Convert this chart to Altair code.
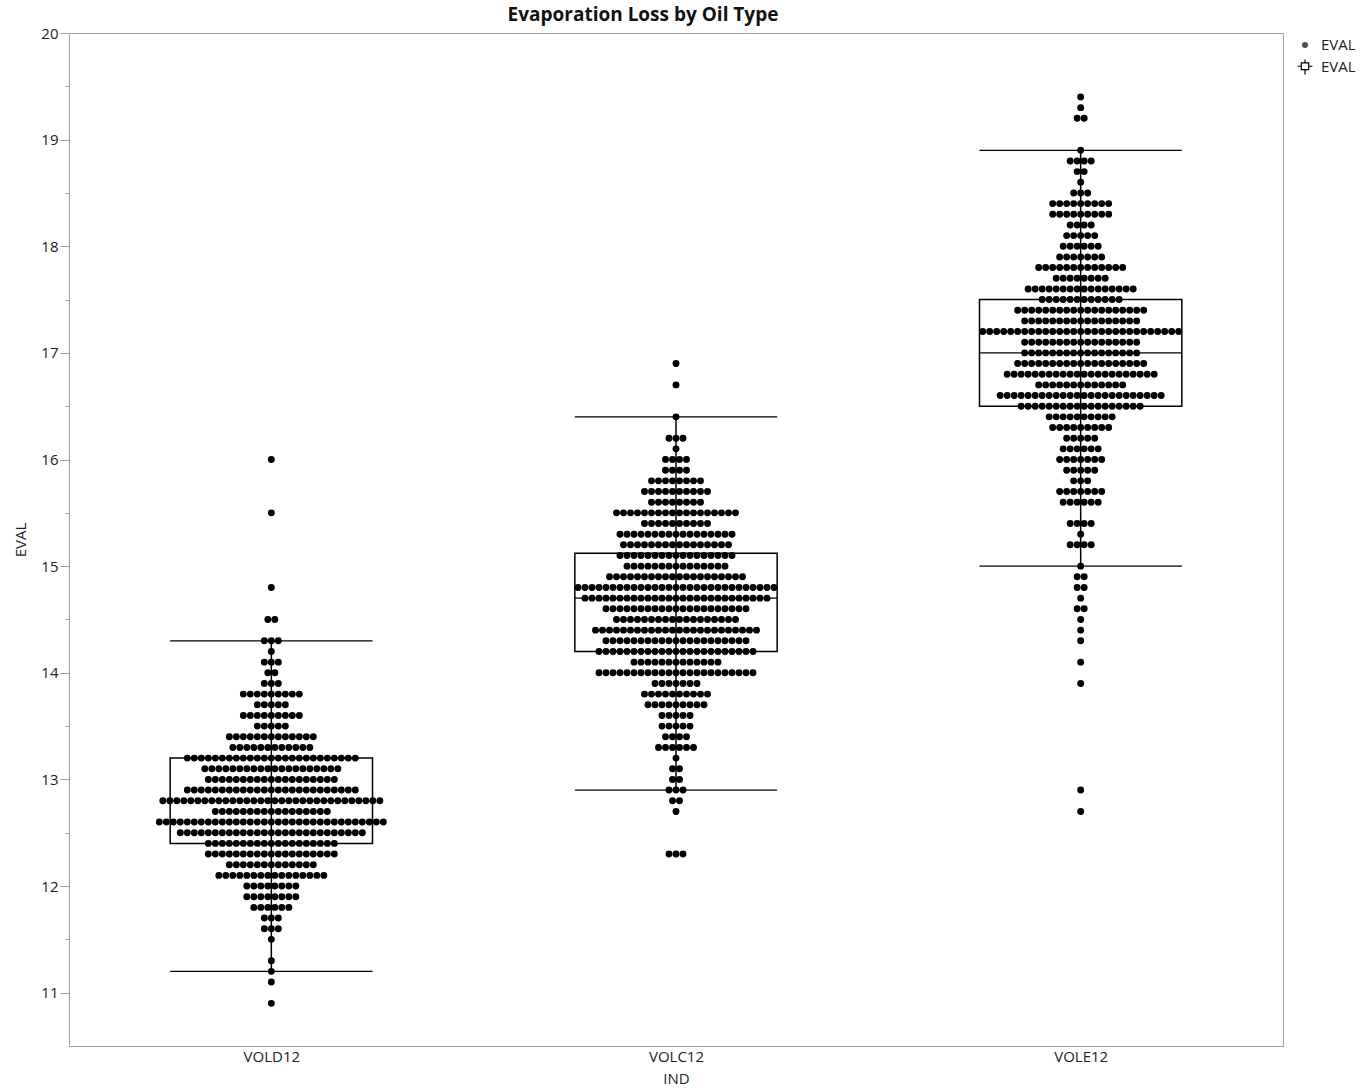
import altair as alt
import pandas as pd

groups = ["VOLD12", "VOLC12", "VOLE12"]

vold_values = [16.0, 15.5, 14.8, 14.5, 14.3, 14.2, 14.1, 14.0, 13.9, 13.8, 13.7, 13.6, 13.5, 13.4, 13.3,
               13.2, 13.1, 13.0, 12.9, 12.8, 12.7, 12.6, 12.5, 12.4, 12.3, 12.2, 12.1, 12.0, 11.9, 11.8,
               11.7, 11.6, 11.5, 11.3, 11.2, 11.1, 10.9]
vold_counts = [1, 1, 1, 2, 3, 1, 3, 2, 3, 9, 5, 9, 5, 13, 12,
               25, 20, 19, 25, 32, 17, 33, 27, 19, 19, 13, 16, 8, 8, 6,
               3, 3, 1, 1, 1, 1, 1]

volc_values = [16.9, 16.7, 16.4, 16.2, 16.1, 16.0, 15.9, 15.8, 15.7, 15.6, 15.5, 15.4, 15.3, 15.2, 15.1,
               15.0, 14.9, 14.8, 14.7, 14.6, 14.5, 14.4, 14.3, 14.2, 14.1, 14.0, 13.9, 13.8, 13.7, 13.6,
               13.5, 13.4, 13.3, 13.2, 13.1, 13.0, 12.9, 12.8, 12.7, 12.3]
volc_counts = [1, 1, 1, 3, 1, 4, 4, 8, 10, 8, 18, 10, 17, 16, 17,
               15, 20, 29, 27, 21, 18, 24, 21, 23, 13, 23, 7, 10, 9, 5,
               5, 4, 6, 1, 2, 2, 3, 2, 1, 3]

vole_values = [19.4, 19.3, 19.2, 18.9, 18.8, 18.7, 18.6, 18.5, 18.4, 18.3, 18.2, 18.1, 18.0, 17.9, 17.8,
               17.7, 17.6, 17.5, 17.4, 17.3, 17.2, 17.1, 17.0, 16.9, 16.8, 16.7, 16.6, 16.5, 16.4, 16.3,
               16.2, 16.1, 16.0, 15.9, 15.8, 15.7, 15.6, 15.4, 15.3, 15.2, 15.0, 14.9, 14.8, 14.7, 14.6,
               14.5, 14.4, 14.3, 14.1, 13.9, 12.9, 12.7]
vole_counts = [1, 1, 2, 1, 4, 2, 1, 3, 9, 9, 4, 5, 6, 7, 13,
               8, 16, 12, 19, 17, 29, 17, 17, 19, 22, 13, 24, 18, 10, 9,
               5, 6, 7, 5, 3, 7, 6, 4, 1, 4, 1, 2, 2, 1, 2,
               1, 1, 1, 1, 1, 1, 1]

box_lo = [11.2, 12.9, 15.0]
box_q1 = [12.4, 14.2, 16.5]
box_med = [12.8, 14.7, 17.0]
box_q3 = [13.2, 15.12, 17.5]
box_hi = [14.3, 16.4, 18.9]

legend_labels = ["EVAL", "EVAL"]

PLOT_W = 1214
PLOT_H = 1013
DOT_STEP = 7.0 / (PLOT_W / 3.0)   # horizontal spacing of stacked dots, in x units
BOX_HALF = 0.25
FONT = "Open Sans"

rows = []
for gi, (vals, cnts) in enumerate([(vold_values, vold_counts), (volc_values, volc_counts), (vole_values, vole_counts)]):
    for v, n in zip(vals, cnts):
        for k in range(n):
            rows.append({"IND": groups[gi], "EVAL": v, "xpos": gi + (k - (n - 1) / 2.0) * DOT_STEP})
dots_df = pd.DataFrame(rows)

box_df = pd.DataFrame({
    "IND": groups,
    "xc": list(range(3)),
    "xl": [i - BOX_HALF for i in range(3)],
    "xr": [i + BOX_HALF for i in range(3)],
    "lo": box_lo, "q1": box_q1, "med": box_med, "q3": box_q3, "hi": box_hi,
})

label_expr = "['VOLD12','VOLC12','VOLE12'][datum.value]"
xscale = alt.Scale(domain=[-0.5, 2.5], nice=False, zero=False)
yscale = alt.Scale(domain=[10.5, 20], nice=False, zero=False)

x_axis = alt.Axis(values=[0, 1, 2], labelExpr=label_expr, grid=False, title="IND",
                  labelFont=FONT, titleFont=FONT, labelFontSize=15, titleFontSize=15,
                  titleFontWeight="normal", labelColor="#222", titleColor="#222",
                  domainColor="#a0a0a0", ticks=False, labelPadding=3, titlePadding=7)
y_ticks = [11 + 0.5 * i for i in range(19)]
y_axis = alt.Axis(values=y_ticks, format=".0f",
                  labelExpr="datum.value % 1 === 0 ? datum.label : ''", grid=False, title="EVAL",
                  labelFont=FONT, titleFont=FONT, labelFontSize=15, titleFontSize=15,
                  titleFontWeight="normal", labelColor="#222", titleColor="#222",
                  domainColor="#a0a0a0", tickColor="#a0a0a0",
                  tickSize={"condition": {"test": "datum.value % 1 === 0", "value": 9}, "value": 4},
                  labelPadding=2, titlePadding=12)

dots = alt.Chart(dots_df).mark_circle(size=48, color="black", opacity=1).encode(
    x=alt.X("xpos:Q", scale=xscale, axis=x_axis),
    y=alt.Y("EVAL:Q", scale=yscale, axis=y_axis),
)

base = alt.Chart(box_df)
whisker = base.mark_rule(color="black", strokeWidth=1.5).encode(
    x=alt.X("xc:Q", scale=xscale), y=alt.Y("lo:Q", scale=yscale), y2="hi:Q")
cap_lo = base.mark_rule(color="black", strokeWidth=1.2).encode(
    x=alt.X("xl:Q", scale=xscale), x2="xr:Q", y=alt.Y("lo:Q", scale=yscale))
cap_hi = base.mark_rule(color="black", strokeWidth=1.2).encode(
    x=alt.X("xl:Q", scale=xscale), x2="xr:Q", y=alt.Y("hi:Q", scale=yscale))
box = base.mark_rect(fillOpacity=0, stroke="black", strokeWidth=1.5).encode(
    x=alt.X("xl:Q", scale=xscale), x2="xr:Q", y=alt.Y("q1:Q", scale=yscale), y2="q3:Q")
median = base.mark_rule(color="black", strokeWidth=1.2).encode(
    x=alt.X("xl:Q", scale=xscale), x2="xr:Q", y=alt.Y("med:Q", scale=yscale))

leg_df = pd.DataFrame({"label": legend_labels})
leg_dot = alt.Chart(leg_df.iloc[[0]]).mark_point(shape="circle", filled=True, color="black", size=36).encode(
    x=alt.value(PLOT_W + 22), y=alt.value(12))
box_icon = "M-1,-0.1H-0.5M0.5,-0.1H1M-0.5,-0.55H0.5V0.35H-0.5ZM0,-1V-0.55M0,0.35V1"
leg_box = alt.Chart(leg_df.iloc[[1]]).mark_point(shape=box_icon, filled=False, color="black",
                                                  size=220, strokeWidth=1.2, opacity=1).encode(
    x=alt.value(PLOT_W + 22), y=alt.value(34))
leg_text1 = alt.Chart(leg_df.iloc[[0]]).mark_text(align="left", baseline="middle", font=FONT, fontSize=15,
                                                 color="#222").encode(
    x=alt.value(PLOT_W + 38), y=alt.value(12), text="label:N")
leg_text2 = alt.Chart(leg_df.iloc[[1]]).mark_text(align="left", baseline="middle", font=FONT, fontSize=15,
                                                 color="#222").encode(
    x=alt.value(PLOT_W + 38), y=alt.value(34), text="label:N")

chart = alt.layer(dots, whisker, cap_lo, cap_hi, box, median, leg_dot, leg_box, leg_text1, leg_text2).properties(
    width=PLOT_W, height=PLOT_H,
    title=alt.TitleParams("Evaporation Loss by Oil Type", font=FONT, fontSize=19, fontWeight="bold",
                          anchor="middle", color="#111", offset=1, dx=-33),
    padding={"left": 13, "top": 6, "right": 5, "bottom": 5},
).configure_view(stroke="#a0a0a0", strokeWidth=1)

chart.save("out.html", embed_options={"renderer": "svg", "actions": False})
